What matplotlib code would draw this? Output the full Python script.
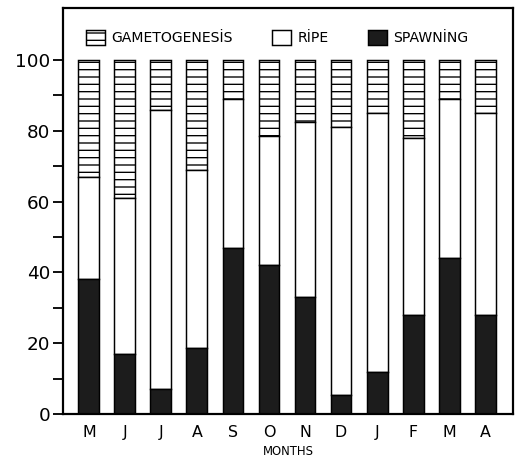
import matplotlib
matplotlib.use("Agg")
import matplotlib.pyplot as plt
import numpy as np

months = ["M", "J", "J", "A", "S", "O", "N", "D", "J", "F", "M", "A"]
spawning = [38, 17, 7, 18.5, 47, 42, 33, 5.5, 12, 28, 44, 28]
ripe = [29, 44, 79, 50.5, 42, 36.5, 49.5, 75.5, 73, 50, 45, 57]
gametogenesis = [33, 39, 14, 31, 11, 21.5, 17.5, 19, 15, 22, 11, 15]
yticks_major = [0, 20, 40, 60, 80, 100]
yticks_minor = [10, 30, 50, 70, 90]

DPI = 88
plt.rcParams["hatch.linewidth"] = 1.1
plt.rcParams["font.family"] = ["DejaVu Sans"]

fig = plt.figure(figsize=(520 / DPI, 465 / DPI), dpi=DPI)
ax = fig.add_axes([0.121, 0.1097, 0.866, 0.8733])

x = np.arange(len(months))
w = 0.58
sp = np.array(spawning)
rp = np.array(ripe)
gm = np.array(gametogenesis)

ax.bar(x, gm, w, bottom=sp + rp, color="white", edgecolor="black",
       linewidth=1.2, hatch="--", label="GAMETOGENESİS")
ax.bar(x, rp, w, bottom=sp, color="white", edgecolor="black",
       linewidth=1.2, label="RİPE")
ax.bar(x, sp, w, color="#1c1c1c", edgecolor="black",
       linewidth=1.2, label="SPAWNİNG")

ax.set_xlim(-0.72, 11.78)
ax.set_ylim(0, 114.7)

ax.set_yticks(yticks_major)
ax.set_yticks(yticks_minor, minor=True)
ax.tick_params(axis="y", which="both", direction="out", length=8, width=1.5,
               pad=2.5, labelsize=15)
ax.set_xticks(x)
ax.set_xticklabels(months)
ax.tick_params(axis="x", length=0, pad=9, labelsize=13)
ax.set_xlabel("MONTHS", fontsize=9.5, labelpad=4)

for s in ax.spines.values():
    s.set_linewidth(1.8)

leg = ax.legend(loc="upper left", bbox_to_anchor=(0.03, 0.97), ncol=3,
                frameon=False, fontsize=11.5, handlelength=1.35,
                handleheight=1.3, handletextpad=0.45, columnspacing=2.8,
                borderaxespad=0.3)

fig.savefig("out.png", dpi=DPI)
